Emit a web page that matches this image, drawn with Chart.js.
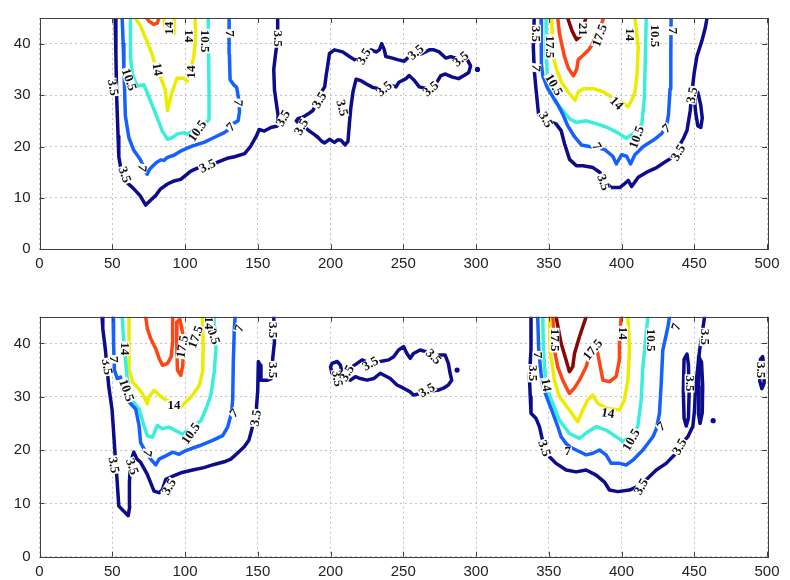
<!DOCTYPE html>
<html>
<head>
<meta charset="utf-8">
<script src="https://cdn.jsdelivr.net/npm/chart.js@4.4.1/dist/chart.umd.min.js"></script>
<style>
  body { margin: 0; background: #fff; }
  .panel { position: absolute; left: 0; width: 790px; height: 290px; }
</style>
</head>
<body>
<div class="panel" style="top:0"><canvas id="topChart" width="790" height="290"></canvas></div>
<div class="panel" style="top:290px"><canvas id="bottomChart" width="790" height="290"></canvas></div>
<script>
// axis ticks
var xTicks = [0, 50, 100, 150, 200, 250, 300, 350, 400, 450, 500];
var yTicks = [0, 10, 20, 30, 40];

// contour level colours (jet)
var c35 = '#0c0c8c', c7 = '#1560ff', c105 = '#38eedc', c14 = '#ecec00', c175 = '#ff4416', c21 = '#880808';

// ---- top panel contours [x, y]
var top35Left = [[52,45],[52.5,38],[53,30],[54,22],[54.5,18],[57,14],[60,13],[64,12],[69,10.5],[73,8.6],[76.5,9.6],[80,10.5],[83,11.7],[88,12.7],[92.5,13.3],[97,13.6],[100,14.3],[104,15.2],[108.5,15.8],[115,16.4],[122,16.9],[129,17.7],[134,18],[141,18.6],[145,20],[149,22],[151,23.3],[154.5,23],[159,23.7],[163.5,24],[164,26],[163,28],[161.5,31],[161,35],[162.5,38.6],[163.7,40.6],[163.7,45]];
var topMid35 = [[176.5,25],[178.8,24.3],[182,23.8],[185.6,23],[189,22.3],[191.3,21.8],[194,21],[196,20.7],[199.3,21.4],[202.7,20.8],[205,21.3],[207.3,21.2],[210,20.3],[212,21],[213,24.5],[214,27.6],[215.5,30.7],[217.6,33.1],[221,32.8],[224.4,32.2],[229,31.5],[232.4,31.3],[236,31.2],[240.4,32],[245,31.6],[247,32.5],[252,33.2],[254,33.8],[257.5,32.9],[261,31.6],[265.5,31.3],[269,31.5],[272,32],[275.8,33.8],[279,34.1],[283.8,33.5],[288,33.2],[291.8,33.8],[295,34.4],[296.3,35.7],[294,36.9],[290.6,37.5],[286,37.2],[282.6,37.5],[279.2,37.2],[274.7,38.4],[271,38.8],[268,38.8],[263,38.1],[258,37.8],[254,37.5],[250.7,36.6],[246,36.9],[242.6,37.2],[238,37.5],[237,38.8],[235.2,40],[233.6,38.8],[231.3,38.4],[227.9,38.8],[224,38],[219.9,36.9],[216.4,36.9],[213,37.5],[208.4,38.4],[202.7,38.8],[199.3,38.1],[198,35.6],[197,33.8],[196,31.6],[193.5,30.5],[191.3,29.5],[190,28.2],[187.9,27],[184.5,26.3],[181,25.7],[177.6,25.4],[176.5,25]];
var top7Left = [[56.8,45],[57.5,40],[58,35.5],[59,26],[61.4,21.75],[64.8,19.25],[69.4,17.4],[72.9,15.2],[74,14.6],[75.5,15.5],[77.5,16.1],[80,16.8],[83.2,17.4],[85.5,17.3],[88,17.9],[92.4,18.3],[98,19.25],[106,20.2],[113,20.8],[120,21.75],[127,22.7],[130,23.3],[133.5,24.5],[136.5,25],[137.5,26.8],[137,29],[135.5,31.5],[133.5,32],[131,33],[130.5,38],[130.3,45]];
var top105Left = [[62.5,45],[62.5,37.5],[63.7,34.25],[67,31.75],[71.7,32],[74,30.5],[77.5,28],[81,25.5],[84.4,23],[88,21.4],[91.3,21.75],[94.7,22.4],[99.3,22.7],[101.6,22.4],[108,23.5],[114,24.5],[116.5,25.2],[116.5,31],[116.2,38],[116,45]];
var top14Left = [[65.8,45],[69.2,43.6],[73.8,40.5],[77.3,38],[80,35.5],[83,33.6],[86.4,31.1],[88,27],[91,30.5],[94.5,33.3],[99,33.3],[101.4,32.7],[103.5,34],[106,37.4],[107,40.5],[107,45]];
var top14Inner = [[85.5,45],[86.7,42.4],[89.5,42.2],[92.4,42],[92.6,45]];
var top175Left = [[73.6,45],[75.2,44.4],[78.6,43.75],[81,44],[82,45]];
var top35Right = [[340,45],[339.4,39.4],[340,35],[341.2,31.25],[343,26.25],[347,25.2],[351,24.8],[355,24.4],[358.5,23.1],[360.8,20.6],[364.3,17.5],[369,16.25],[373.5,16.25],[380.4,15.9],[385,15],[389,13],[393,12],[398.8,12],[402.3,12.8],[404.6,13.4],[407,12.2],[409.2,13.1],[411.5,14],[417.3,15],[424.2,15.9],[431,17.2],[434.6,17.8],[438.5,19.5],[442.6,21.6],[445,23.1],[447.2,26.9],[448.4,30.6],[450,34.4],[451.8,37.5],[455.3,40.6],[457.6,43.1],[458.8,45]];
var top35Loop = [[450.5,31],[452.5,30.5],[454.5,28],[455.5,25.5],[454.5,23.7],[452.5,24],[451,26.5],[450.2,29],[450.5,31]];
var top7Right = [[344.7,45],[344.7,40.6],[345.2,36],[345.9,33.75],[349.3,31.25],[355,28.75],[359.7,26.25],[363.1,24],[367.7,21.9],[372.4,20.3],[378,20],[383,19.8],[388.5,19.4],[394,18.1],[396.5,16.6],[400,18.4],[403.5,18.1],[406.2,16.6],[409.2,18.4],[415,20],[422,21.25],[427.6,22.5],[431,24],[432.3,26.25],[433.4,31.25],[433.9,37.5],[434.1,45]];
var top105Right = [[348.2,45],[348.2,38],[349,34],[350.8,31],[354.2,28.75],[360,26.9],[364.6,25.3],[369.2,24.7],[376,25],[383,24.4],[390,23.75],[396.7,22.8],[403.3,21.6],[408,22.5],[414,24.4],[415.7,29.4],[416.4,37.5],[417,45]];
var top14Right = [[352,45],[353,37.5],[355.4,35],[358.8,32.5],[363.4,30.6],[368,29],[370.3,30.6],[373.8,31.25],[380.7,31.25],[387.6,30.6],[394,29.5],[401,28.4],[404.6,27.8],[407,29],[409.2,30.6],[410.8,34.4],[411.5,39.4],[409.2,45]];
var top175Right = [[356.2,45],[357.4,41.9],[360.8,37.5],[363.4,35.3],[366.9,33.75],[369.2,35],[370.3,36.9],[373.8,37.8],[377.3,38.75],[379.6,39.7],[382.5,41.5],[385.3,43.1],[387.6,45]];
var top21Right = [[363,45],[366,42.5],[369,40.8],[372,41.5],[374.5,44],[375.5,45]];
var topDots = [[301,35]];

// ---- bottom panel contours
var bot35Left = [[43,45],[43.5,42.8],[45.3,38.75],[47.6,31.9],[49.9,27.5],[51,23.1],[52,19],[53.3,14.4],[54.5,9.5],[58,8.5],[61,7.7],[62,9.4],[61.8,14],[62.6,17.7],[64.8,19.6],[67,18.3],[69.5,17.7],[74,15.5],[78.7,12.3],[82.2,12],[84.5,12.6],[86.8,14.5],[92.5,15.2],[98,15.8],[106,16.3],[113,16.7],[120,17.3],[127,17.8],[131.5,18.3],[136,19.4],[140.7,20.6],[144,21.9],[146,24],[149,27.5],[150,31.25],[150.4,36.6],[151.8,35.9],[152.2,33.1],[156.8,33.1],[159.2,33.4],[160.3,37.2],[161.5,40.3],[161,45]];
var bot7Left = [[50.6,45],[50.8,42.8],[51,40],[51.5,35],[53.4,33.4],[55.7,33.7],[56.9,31.5],[61.5,29],[66.1,27.7],[68.4,24.6],[69.5,21.4],[73,19.6],[76.4,18.3],[79.9,17.2],[82.2,18.3],[86.8,18.9],[91.4,19.6],[96,19.2],[100.6,19.9],[109.8,20.8],[119,21.8],[125.9,22.7],[129.3,24.3],[132,27],[132.8,29.6],[133.2,36.5],[133.9,42.8],[134.5,45]];
var bot105Left = [[56.8,45],[57.5,42],[59.2,36.5],[60.3,33.4],[62.6,29.6],[68.4,27.7],[71.8,24.6],[74.1,22.7],[77.6,22.4],[81,24.6],[84.5,24],[89.1,24.3],[93.7,23.6],[98.3,23],[104,24],[110.9,25.5],[114.4,27.7],[117.8,30.3],[120.1,34.7],[121.3,39.1],[120.5,43],[120,45]];
var bot14Left = [[61.5,45],[61.5,42.8],[61.5,35.3],[63.8,32.8],[67.2,31.8],[70.7,30.6],[74.1,28.7],[75.3,30],[78.7,31.2],[82.2,30.3],[85.6,29.6],[91,28.8],[97.1,28],[100.6,29],[105.2,30.3],[109.8,32.1],[112.1,34.7],[112.5,39.1],[112,45]];
var bot175Left = [[73,45],[74.1,42.8],[76.4,40.9],[79.9,39],[82.2,37.2],[84.5,35.9],[87.9,36.2],[90.5,37.5],[91.4,40],[91.5,45]];
var bot175Inner = [[94.5,44],[94.3,40],[94.8,35],[97.1,34],[98.5,35.9],[98.8,39],[98.3,42],[96.5,44.5],[94.5,44]];
var bot35Mid = [[200,35.6],[201.1,36.25],[204.6,36.6],[206.8,35.9],[208,34.4],[211.4,35],[214.8,35.6],[218.3,36.25],[221.7,36.9],[226,36.4],[230,36.2],[234.2,36.6],[240,36.9],[243.4,37.5],[246.8,38.75],[250.2,39.4],[252.5,38.1],[254.8,37.2],[257,38.1],[261.6,38.75],[266.2,38.4],[271,37.6],[275.3,37.8],[278.8,37.8],[281,36.25],[282.2,34.4],[283.3,33.1],[281,32.2],[277.6,31.6],[274.2,31.25],[268,31],[261.6,30.6],[257,30.3],[254.8,30.9],[250.2,31.6],[245.7,32.2],[241.1,33.4],[234.2,34.4],[229.7,33.4],[225.1,33.1],[220.5,33.4],[217.1,33.75],[213.7,33.1],[210,33.5],[206.8,34],[203.4,33.75],[201.1,34.4],[200,35.6]];
var bot35Right = [[337.8,45],[337.8,38.75],[336.7,33.75],[337.3,30],[337.8,26.9],[341.3,25.9],[343.6,24.4],[346,21.5],[350.5,18.75],[355,17.5],[362,16.25],[368.8,15.9],[375.7,16.25],[382.6,15.3],[388.3,14],[391.7,12.5],[397.5,12.2],[405.5,12.5],[412,13.3],[418,14.7],[423.9,16.25],[430.7,17.5],[436.5,19.1],[441,21],[445.6,22.5],[449,24.4],[450.2,27.5],[450.9,31.9],[452.5,35.6],[453.7,38.75],[455.5,42],[457.1,45]];
var bot35LoopA = [[443,37],[445,38],[446,36],[446.5,31],[446,26],[444.5,24.5],[443,26],[442.5,31],[443,37]];
var bot35LoopB = [[453,37.5],[455,36.5],[455.8,32],[455.5,27],[454,25],[452.8,27],[453,32],[453,37.5]];
var bot35LoopFar = [[495.5,37],[497,37.5],[498.3,35],[498,32.5],[496.5,31.5],[495,33],[495.5,37]];
var bot7Right = [[342.4,45],[343.1,38.75],[344.7,34.4],[345.9,31.9],[349.3,29.4],[352.8,26.9],[356.2,24.4],[358.5,22.5],[362,21.2],[365,20.5],[368.8,20],[375.7,19.1],[380.3,19.4],[384.9,20],[389.4,19.1],[392.9,17.5],[398.6,17.5],[403.2,17.2],[407.8,18.1],[414.7,20],[421.6,22.5],[424,24],[426.1,26.9],[427.3,32.5],[428.4,38.75],[431.9,43.1],[433,45]];
var bot105Right = [[345.9,45],[346.3,38.75],[348.2,31.9],[352.8,28.75],[357.3,25.6],[364.2,23.1],[371.1,22.2],[376.8,23.4],[382.6,24.4],[389.4,23.75],[396.3,22.5],[400.9,21.6],[406,22.5],[411.2,24.4],[413.5,29.4],[414.7,35.6],[417,41.9],[418.1,45]];
var bot14Right = [[350.5,45],[350.9,38.75],[353.9,33.1],[357.3,30],[364.2,27.5],[369.9,25.3],[373.4,27.5],[376.8,29.4],[380.3,30.3],[383.7,28.75],[390,27.8],[398.6,27.5],[402,29.4],[404.4,33.1],[405.5,38.75],[404.4,45]];
var bot175Right = [[352.8,45],[353.9,38.75],[356.2,35.6],[359.6,33.1],[364.2,30.6],[367.6,31.6],[371.1,33.1],[375.7,35.6],[379.1,38.75],[381.5,39.5],[383.7,38.1],[387.2,33.1],[391.7,32.8],[396.3,33.75],[398.6,36.9],[398.6,40.6],[399.8,45]];
var bot21Right = [[355,45],[358.5,40],[361.9,36.9],[364.2,34.7],[366.5,35.6],[367.7,38.1],[371.1,41.25],[375.7,45]];
var botDots = [[287,35],[463,25.5]];

// ---- contour labels [text, x, y, angle]
var topLabels = [
  ['3.5',50.5,31.5,80],['10.5',61.5,33,70],['3.5',58.5,14.5,70],['7',70.5,15.8,100],
  ['3.5',115.5,16.2,-25],['10.5',108.5,23,-55],['7',131.5,23.8,-45],['7',136.5,28.5,95],
  ['7',130.5,42,90],['10.5',113.5,40.5,90],['14',102.8,41.5,90],['14',81,35,80],
  ['14',104.5,34.5,-90],['14',89,43,-90],['3.5',163.7,41,90],['3.5',167.5,25.5,-60],
  ['3.5',180,23.8,-60],['3.5',192.5,29,-60],['3.5',208,27.5,75],['3.5',223,37.5,-60],
  ['3.5',237,31.2,-40],['3.5',258.7,38.3,-40],['3.5',268.9,31.2,-40],['3.5',289.5,37,-40],
  ['3.5',341.2,41.9,90],['7',341.2,35.3,100],['10.5',353.5,32,60],['17.5',351,39.4,90],
  ['3.5',348,25.2,60],['7',383,20,60],['3.5',387.5,13,70],['14',396.5,28.4,45],
  ['10.5',410.5,21.8,-70],['7',431,23.5,-40],['3.5',439,18.8,-60],['3.5',448.5,30,-80],
  ['7',435.5,42.5,90],['10.5',423,41.5,90],['14',405.8,41.8,90],['17.5',385,41.6,-70],
  ['21',373.5,42.8,90]
];
var bottomLabels = [
  ['3.5',46.4,35.6,80],['7',51,37,90],['14',58.4,39,90],['10.5',59.8,31.2,70],
  ['3.5',51,17.2,80],['3.5',63.7,16.9,70],['7',74,19.4,100],['3.5',89,13.1,-60],
  ['14',92.4,28.4,0],['10.5',104,23.1,-55],['7',133.8,26.9,-45],['3.5',148.7,26,-80],
  ['3.5',160.2,35,90],['3.5',160.2,42.5,90],['7',137.2,42.8,-70],['10.5',118.9,41.9,70],
  ['17.5',107.4,41.2,-70],['17.5',98.2,39.4,-80],['14',116.5,43.8,90],
  ['3.5',204.6,33.4,80],['3.5',211.4,34.4,-60],['3.5',227.4,36.2,-30],['3.5',270.8,37.5,45],
  ['3.5',266.2,31.2,-30],['3.5',457.1,41.2,90],['3.5',339,34.4,90],['7',342.4,37.8,90],
  ['17.5',353.9,40.6,90],['14',348.2,32.2,80],['3.5',347,20.3,70],['7',363,19.7,0],
  ['17.5',380.3,38.8,-50],['14',401,41.9,90],['10.5',420.4,40.6,90],['7',437.6,43.1,-70],
  ['14',390.6,26.9,10],['10.5',406.7,21.9,-60],['7',427.3,24.4,-40],['3.5',413.5,13.1,-60],
  ['3.5',440,20.6,-60],['3.5',446.8,32.5,90],['3.5',496,35,90]
];

var topContours = [
  [c35, top35Left], [c35, topMid35], [c35, top35Right], [c35, top35Loop],
  [c7, top7Left], [c7, top7Right], [c105, top105Left], [c105, top105Right],
  [c14, top14Left], [c14, top14Inner], [c14, top14Right],
  [c175, top175Left], [c175, top175Right], [c21, top21Right]
];
var bottomContours = [
  [c35, bot35Left], [c35, bot35Mid], [c35, bot35Right], [c35, bot35LoopA], [c35, bot35LoopB], [c35, bot35LoopFar],
  [c7, bot7Left], [c7, bot7Right], [c105, bot105Left], [c105, bot105Right],
  [c14, bot14Left], [c14, bot14Right],
  [c175, bot175Left], [c175, bot175Inner], [c175, bot175Right], [c21, bot21Right]
];

function toXY(arr) {
  return arr.map(function (p) { return { x: p[0], y: p[1] }; });
}

function buildDatasets(contours, dots) {
  var ds = contours.map(function (c) {
    return {
      data: toXY(c[1]),
      borderColor: c[0],
      borderWidth: 3.5,
      borderJoinStyle: 'round',
      borderCapStyle: 'round',
      showLine: true,
      pointRadius: 0,
      tension: 0
    };
  });
  ds.push({
    data: toXY(dots),
    showLine: false,
    pointRadius: 2.6,
    pointBackgroundColor: c35,
    pointBorderWidth: 0
  });
  return ds;
}

var contourLabels = {
  id: 'contourLabels',
  afterDatasetsDraw: function (chart, args, opts) {
    var ctx = chart.ctx;
    var xs = chart.scales.x, ys = chart.scales.y;
    ctx.save();
    ctx.font = 'bold 13px "Liberation Serif", "DejaVu Serif", serif';
    ctx.textAlign = 'center';
    ctx.textBaseline = 'middle';
    opts.labels.forEach(function (l) {
      var px = xs.getPixelForValue(l[1]);
      var py = ys.getPixelForValue(l[2]);
      var w = ctx.measureText(l[0]).width;
      ctx.save();
      ctx.translate(px, py);
      ctx.rotate(l[3] * Math.PI / 180);
      ctx.fillStyle = '#fff';
      ctx.fillRect(-w / 2 - 1, -5, w + 2, 10);
      ctx.fillStyle = '#111';
      ctx.fillText(l[0], 0, 0.5);
      ctx.restore();
    });
    ctx.restore();
  }
};

var frame = {
  id: 'frame',
  afterDraw: function (chart) {
    var ctx = chart.ctx, a = chart.chartArea;
    var xs = chart.scales.x, ys = chart.scales.y;
    ctx.save();
    ctx.strokeStyle = '#404040';
    ctx.lineWidth = 1;
    ctx.beginPath();
    xTicks.forEach(function (v) {
      var p = Math.round(xs.getPixelForValue(v)) + 0.5;
      ctx.moveTo(p, a.bottom); ctx.lineTo(p, a.bottom - 5);
      ctx.moveTo(p, a.top); ctx.lineTo(p, a.top + 5);
    });
    yTicks.forEach(function (v) {
      var p = Math.round(ys.getPixelForValue(v)) + 0.5;
      ctx.moveTo(a.left, p); ctx.lineTo(a.left + 5, p);
      ctx.moveTo(a.right, p); ctx.lineTo(a.right - 5, p);
    });
    ctx.stroke();
    ctx.strokeRect(Math.round(a.left) + 0.5, Math.round(a.top) + 0.5,
      Math.round(a.right - a.left), Math.round(a.bottom - a.top));
    ctx.restore();
  }
};

function makeChart(id, contours, dots, labels, padTop, xHeight) {
  return new Chart(document.getElementById(id), {
    type: 'scatter',
    data: { datasets: buildDatasets(contours, dots) },
    options: {
      responsive: false,
      animation: false,
      events: [],
      layout: { padding: { left: 0, right: 23, top: padTop, bottom: 0 } },
      plugins: {
        legend: { display: false },
        tooltip: { enabled: false },
        contourLabels: { labels: labels }
      },
      scales: {
        x: {
          type: 'linear', min: 0, max: 500,
          afterBuildTicks: function (s) { s.ticks = xTicks.map(function (v) { return { value: v }; }); },
          afterFit: function (s) { s.height = xHeight; },
          ticks: { autoSkip: false, maxRotation: 0, padding: 6, color: '#222',
                   font: { family: '"Liberation Sans", Arial, sans-serif', size: 15 } },
          grid: { color: '#c4c4c4', lineWidth: 1, drawTicks: false },
          border: { display: false, dash: [2, 3] }
        },
        y: {
          type: 'linear', min: 0, max: 45,
          afterBuildTicks: function (s) { s.ticks = yTicks.map(function (v) { return { value: v }; }); },
          afterFit: function (s) { s.width = 39.5; },
          ticks: { padding: 9, color: '#222',
                   font: { family: '"Liberation Sans", Arial, sans-serif', size: 15 } },
          grid: { color: '#c4c4c4', lineWidth: 1, drawTicks: false },
          border: { display: false, dash: [2, 3] }
        }
      }
    },
    plugins: [contourLabels, frame]
  });
}

makeChart('topChart', topContours, topDots, topLabels, 9.3, 40.7);
makeChart('bottomChart', bottomContours, botDots, bottomLabels, 26.7, 23.3);
</script>
</body>
</html>
